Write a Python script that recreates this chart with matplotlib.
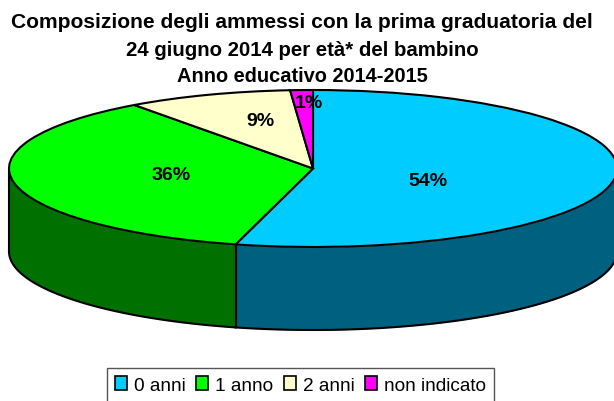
import numpy as np
import matplotlib
matplotlib.use('Agg')
import matplotlib.pyplot as plt
from matplotlib.patches import Patch

plt.rc('font', family=['Liberation Sans', 'DejaVu Sans'])

categories = ['0 anni', '1 anno', '2 anni', 'non indicato']
values = [54.1, 35.9, 8.8, 1.2]
top_colors = ['#00CCFF', '#00FF00', '#FFFFCC', '#FF00FF']
side_colors = ['#006080', '#007000', '#808066', '#800080']
title_lines = ['Composizione degli ammessi con la prima graduatoria del',
               '24 giugno 2014 per età* del bambino',
               'Anno educativo 2014-2015']

W, H = 614, 402
# ellipse of the pie in pixels
cx, cy, rx, ry, depth = 313, 169.5, 304, 78.5, 83

fig = plt.figure(figsize=(W / 100, H / 100), dpi=100)
ax = fig.add_axes([0, 0, 1, 1])

ax.pie(values, colors=top_colors, startangle=90, counterclock=False,
       wedgeprops={'edgecolor': 'black', 'linewidth': 1.5, 'zorder': 3})
ax.set_aspect('auto')
ax.set_xlim(-cx / rx, (W - cx) / rx)
ax.set_ylim((cy - H) / ry, cy / ry)
ax.axis('off')

# side wall, only the front half of the ellipse shows
d = depth / ry
edges = np.cumsum([0] + values) / sum(values) * 360
for start, end, col in zip(edges[:-1], edges[1:], side_colors):
    a0, a1 = max(start, 90), min(end, 270)
    if a1 <= a0:
        continue
    t = np.radians(np.linspace(a0, a1, 120))
    x = np.sin(t)
    y = np.cos(t)
    ax.fill_between(x, y - d, y, color=col, zorder=1, linewidth=0)
    ax.plot(x, y - d, color='black', lw=1.5, zorder=2)
    ax.plot([x[0], x[0]], [y[0], y[0] - d], color='black', lw=1.5, zorder=2)
    ax.plot([x[-1], x[-1]], [y[-1], y[-1] - d], color='black', lw=1.5, zorder=2)

label_px = [(428, 181), (171, 176), (260, 122), (309, 104)]
for v, (px, py) in zip(values, label_px):
    ax.text((px - cx) / rx, (cy - py) / ry, f'{round(v)}%', ha='center', va='center',
            fontsize=14, fontweight='bold', zorder=5)

for line, py, size in zip(title_lines, [23, 50, 77], [15.1, 14.7, 14.4]):
    fig.text(302 / W, 1 - py / H, line, ha='center', va='center',
             fontsize=size, fontweight='bold')

handles = [Patch(facecolor=c, edgecolor='black', linewidth=1.2) for c in top_colors]
leg = fig.legend(handles, categories, ncol=4, loc='center', bbox_to_anchor=(300.5 / W, 1 - 386 / H),
                 fontsize=13.7, frameon=True, fancybox=False, framealpha=1, edgecolor='#555555',
                 handlelength=0.62, handleheight=0.74, handletextpad=0.37, columnspacing=0.55,
                 borderpad=0.42, borderaxespad=0)
leg.get_frame().set_linewidth(1)

fig.savefig('out.png', dpi=100)
